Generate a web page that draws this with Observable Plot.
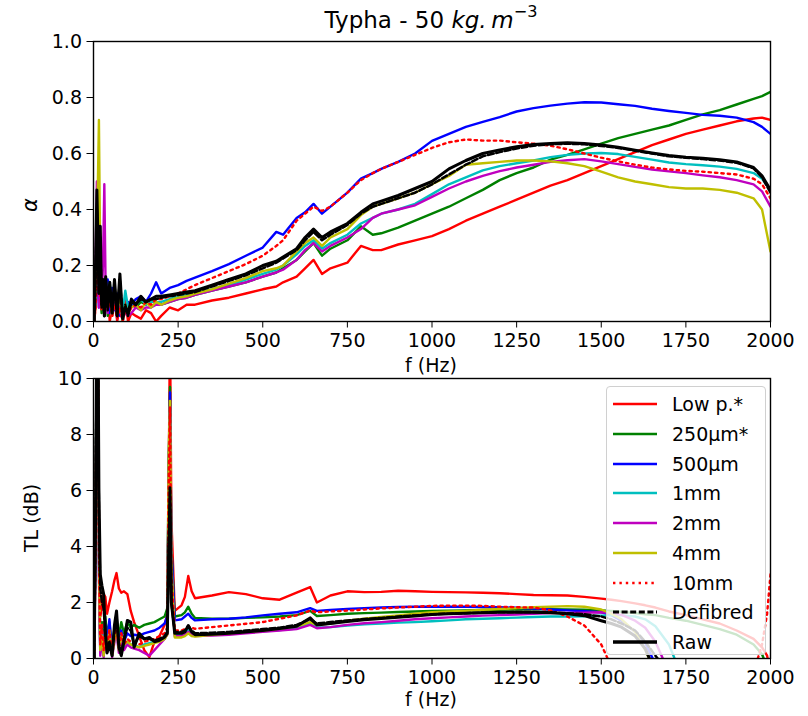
<!DOCTYPE html>
<html><head><meta charset="utf-8">
<script src="https://cdn.jsdelivr.net/npm/d3@7"></script>
<script src="https://cdn.jsdelivr.net/npm/@observablehq/plot@0.6"></script>
<style>
body{margin:0;background:#fff;font-family:"DejaVu Sans",sans-serif;color:#000}
#wrap{position:relative;width:808px;height:716px;overflow:hidden;background:#fff}
.abs{position:absolute;white-space:nowrap}
</style></head><body><div id="wrap"></div>
<script>
// ---------- series definitions ----------
const seriesNames = ["Low p.*","250µm*","500µm","1mm","2mm","4mm","10mm","Defibred","Raw"];
const seriesColors = ["#ff0000","#008000","#0000ff","#00bfbf","#bf00bf","#bfbf00","#ff0000","#000000","#000000"];
const seriesDash = [null,null,null,null,null,null,"2.4,4","6,2.6",null];
const seriesWidth = [2.4,2.4,2.4,2.4,2.4,2.4,2.4,2.5,3];

const xTicks = [0,250,500,750,1000,1250,1500,1750,2000];
const alphaTicks = [0,0.2,0.4,0.6,0.8,1.0];
const tlTicks = [0,2,4,6,8,10];

// ---------- top panel: absorption coefficient ----------
const freqTop = [2,6,10,13,16,20,24,28,32,36,42,48,55,62,70,78,86,94,102,112,125,140,155,170,185,
 200,225,250,275,300,350,400,450,500,540,560,600,625,650,675,700,750,790,825,850,900,950,1000,1050,1100,1150,1200,1250,1300,1350,1400,1450,1500,1550,1600,1650,1700,1750,1800,1850,1900,1950,1975,2000];

const alphaLowP = [0,.05,.12,.2,.26,.15,.05,.1,.02,.08,.12,0,.05,.1,0,.06,.02,.08,0,.03,.02,.01,.04,.03,0,
 .02,.05,.04,.06,.06,.075,.085,.1,.115,.125,.14,.16,.19,.22,.17,.19,.21,.27,.255,.255,.275,.29,.305,.33,.36,.385,.41,.435,.46,.485,.505,.53,.555,.58,.605,.63,.65,.67,.685,.7,.715,.725,.728,.72];
const alpha250 = [0,.08,.2,.3,.15,.1,.03,.12,.05,.14,.02,.1,.04,.12,.02,.08,0,.05,.02,.06,.05,.07,.06,.08,.07,
 .06,.07,.08,.085,.095,.11,.125,.14,.16,.175,.19,.22,.25,.28,.235,.26,.29,.34,.31,.315,.335,.36,.385,.41,.44,.47,.505,.53,.55,.578,.595,.615,.635,.655,.67,.685,.7,.72,.74,.755,.775,.795,.805,.82];
const alpha500 = [0,.1,.25,.15,.05,.2,.05,.13,.02,.1,.15,.03,.12,.04,.1,.02,.06,.03,.07,.06,.08,.09,.07,.1,.14,
 .1,.12,.13,.145,.157,.18,.205,.235,.264,.32,.31,.37,.39,.42,.385,.41,.46,.51,.53,.545,.57,.6,.645,.67,.695,.713,.73,.75,.762,.771,.778,.783,.782,.776,.77,.76,.752,.745,.738,.735,.728,.712,.695,.67];
const alpha1mm = [0,.1,.3,.2,.1,.25,.05,.15,.03,.12,.05,.14,.02,.1,.04,.08,.03,.11,.05,.07,.06,.08,.06,.07,.07,
 .07,.08,.09,.095,.1,.115,.13,.15,.17,.185,.2,.24,.27,.29,.26,.28,.31,.35,.37,.385,.4,.42,.455,.49,.515,.54,.555,.565,.575,.587,.595,.6,.602,.598,.588,.578,.568,.562,.558,.553,.545,.53,.51,.47];
const alpha2mm = [0,.2,.5,.25,.05,.15,.08,.2,.49,.1,.03,.12,.02,.08,.01,.06,0,.04,.02,.03,.05,.04,.05,.05,.06,
 .06,.07,.08,.085,.095,.11,.125,.14,.16,.175,.185,.22,.255,.28,.25,.27,.3,.33,.37,.385,.4,.415,.445,.475,.5,.52,.537,.55,.56,.57,.576,.58,.572,.562,.552,.543,.536,.53,.522,.515,.505,.49,.465,.41];
const alpha4mm = [0,.1,.3,.5,.72,.2,.05,.12,.03,.15,.05,.1,.02,.13,.03,.1,0,.06,.03,.05,.06,.04,.07,.05,.07,
 .06,.075,.085,.09,.1,.115,.135,.155,.18,.19,.2,.25,.28,.3,.27,.3,.33,.38,.41,.42,.44,.46,.49,.52,.56,.565,.57,.575,.575,.572,.565,.555,.535,.515,.5,.49,.48,.475,.475,.47,.46,.44,.4,.25];
const alpha10mm = [0,.05,.15,.25,.3,.1,.04,.12,.02,.1,.04,.08,.02,.06,.01,.05,0,.04,.03,.05,.06,.05,.07,.06,.08,
 .08,.09,.1,.115,.13,.155,.18,.205,.235,.27,.29,.36,.385,.41,.395,.41,.46,.505,.53,.545,.57,.595,.62,.64,.65,.646,.646,.64,.635,.628,.615,.6,.585,.572,.56,.55,.543,.538,.535,.53,.525,.51,.49,.44];
const alphaDefibred = [0,.15,.4,.3,.1,.3,.05,.14,.02,.15,.04,.13,.03,.12,.02,.15,.01,.06,.02,.07,.06,.08,.07,.08,.08,
 .085,.09,.095,.1,.105,.125,.145,.165,.19,.21,.225,.255,.29,.32,.29,.31,.345,.385,.41,.42,.44,.46,.49,.525,.56,.59,.605,.618,.628,.633,.635,.633,.627,.62,.61,.6,.59,.585,.58,.575,.567,.547,.515,.46];
const alphaRaw = [0,.2,.47,.3,.1,.34,.06,.15,.02,.16,.05,.14,.03,.15,.02,.17,.01,.05,.03,.08,.06,.09,.07,.08,.09,
 .09,.095,.1,.105,.11,.13,.15,.17,.2,.215,.23,.26,.3,.33,.3,.32,.35,.39,.42,.43,.45,.475,.5,.545,.575,.6,.613,.624,.632,.636,.638,.636,.63,.622,.612,.602,.593,.587,.583,.578,.57,.55,.52,.47];

// ---------- bottom panel: transmission loss (dB) ----------
const freqBot = [2,6,10,13,16,20,25,30,35,40,47,55,62,68,75,82,90,100,110,120,135,150,165,180,195,210,218,222,226,230,240,260,270,280,290,300,
 350,400,450,500,550,600,640,660,700,750,800,850,900,950,1000,1050,1100,1150,1200,1250,1300,1350,1400,1450,1500,1530,1560,1600,1630,1660,1700,1750,1800,1850,1900,1950,1975,1990,2000];

const tlLowP = [0,4,12,12,5,1.5,1.8,2.3,2.2,1.6,2.0,2.4,2.8,3.05,2.5,2.35,2.4,2.3,1.7,1.3,0.8,0.3,0.05,0.6,0.8,1.2,1.6,6,12,5,1.7,1.9,2.2,2.95,2.4,2.15,
 2.25,2.37,2.3,2.15,2.1,2.35,2.55,2.0,2.25,2.4,2.37,2.38,2.42,2.4,2.38,2.37,2.36,2.35,2.33,2.3,2.27,2.26,2.25,2.2,2.14,2.1,2.05,1.97,1.9,1.82,1.68,1.55,1.4,1.25,1.0,0.7,0.4,0.1,-0.5];
const tl250 = [0,5,12,12,4,0.5,1.3,0.2,1.5,0.8,1.3,0.3,1.1,1.5,0.8,1.3,0.9,1.3,1.1,1.2,1.1,1.2,1.25,1.3,1.4,1.5,1.8,7,9.7,4,1.5,1.55,1.65,1.85,1.6,1.45,
 1.42,1.42,1.45,1.47,1.5,1.55,1.7,1.52,1.55,1.6,1.62,1.64,1.66,1.68,1.7,1.71,1.72,1.73,1.74,1.75,1.76,1.76,1.75,1.74,1.72,1.7,1.67,1.62,1.58,1.55,1.45,1.35,1.2,1.05,0.85,0.5,0.15,-0.3,-0.5];
const tl500 = [0,5,12,12,4,0.3,1.0,0.1,1.2,0.5,1.4,0.2,1.0,1.3,0.5,1.0,0.6,0.9,0.8,0.85,0.82,0.9,0.95,1.0,1.1,1.25,1.5,6.5,9.5,4,1.36,1.4,1.5,1.6,1.45,1.36,
 1.4,1.42,1.47,1.54,1.6,1.65,1.8,1.7,1.73,1.77,1.8,1.82,1.84,1.85,1.85,1.85,1.85,1.84,1.83,1.81,1.78,1.75,1.72,1.69,1.65,1.55,1.35,0.95,0.55,-0.2,-1,-1,-1,-1,-1,-1,-1,-1,-1];
const tl1mm = [0,4,12,12,3,0.2,0.9,0.1,1.0,0.3,0.8,0.1,0.7,1.0,0.3,0.7,0.4,0.6,0.5,0.5,0.4,0.5,0.55,0.6,0.65,0.7,0.9,6,9,3,0.85,0.85,0.9,1.05,0.9,0.85,
 0.87,0.9,0.93,0.97,1.02,1.07,1.25,1.1,1.12,1.18,1.22,1.25,1.28,1.3,1.33,1.36,1.4,1.42,1.44,1.46,1.48,1.5,1.5,1.51,1.53,1.54,1.54,1.5,1.4,1.15,0.5,-1,-1,-1,-1,-1,-1,-1,-1];
const tl2mm = [0,4,12,12,3,0.1,0.7,0.05,0.8,0.2,0.7,0.05,0.6,0.9,0.2,0.6,0.3,0.5,0.4,0.35,0.3,0.2,0.1,0.3,0.5,0.7,0.85,6,9,3,0.8,0.8,0.85,0.95,0.85,0.8,
 0.82,0.85,0.9,0.95,1.0,1.05,1.2,1.08,1.12,1.2,1.26,1.3,1.35,1.4,1.44,1.47,1.5,1.53,1.55,1.57,1.6,1.62,1.63,1.64,1.65,1.62,1.56,1.35,1.1,0.6,-0.5,-1,-1,-1,-1,-1,-1,-1,-1];
const tl4mm = [0,5,12,12,4,0.3,0.8,0.1,0.9,0.3,1.0,0.1,0.7,1.1,0.3,0.8,0.5,0.6,0.5,0.45,0.4,0.45,0.5,0.55,0.6,0.7,0.85,7,9.2,3.5,0.75,0.75,0.8,0.9,0.8,0.78,
 0.85,0.9,0.95,1.0,1.07,1.15,1.3,1.2,1.25,1.35,1.42,1.48,1.54,1.6,1.65,1.68,1.7,1.74,1.77,1.8,1.83,1.85,1.87,1.85,1.75,1.6,1.4,0.95,0.3,-0.5,-1,-1,-1,-1,-1,-1,-1,-1,-1];
const tl10mm = [0,4,12,12,4,0.5,1.2,0.3,1.0,0.4,1.0,0.2,0.8,1.2,0.4,0.9,0.5,0.7,0.6,0.55,0.5,0.6,0.65,0.7,0.8,0.9,1.1,6,9,3,1.0,1.0,1.05,1.15,1.1,1.06,
 1.12,1.18,1.24,1.3,1.42,1.54,1.71,1.65,1.68,1.71,1.75,1.79,1.82,1.85,1.88,1.89,1.89,1.88,1.85,1.83,1.82,1.72,1.5,1.18,0.5,-0.3,-1,-1,-1,-1,-1,-1,-1,-1,-1,-0.5,0.5,1.6,3.0];
const tlDefibred = [0,5,12,12,5,2.5,2.0,1.8,0.8,0.3,0.6,0.2,1.0,1.4,0.5,0.2,0.7,1.1,1.0,0.5,0.8,0.7,0.7,0.65,0.7,0.8,0.95,4,5.5,2,0.95,0.95,1.0,1.15,1.0,0.9,
 0.92,0.95,1.0,1.05,1.1,1.2,1.4,1.25,1.3,1.36,1.41,1.45,1.5,1.54,1.58,1.6,1.62,1.64,1.65,1.66,1.66,1.65,1.62,1.58,1.5,1.4,1.25,1.0,0.6,0.1,-0.5,-1,-1,-1,-1,-1,-1,-1,-1];
const tlRaw = [0,5,12,12,6,3.0,2.6,2.3,1.0,0.2,0.5,0.1,1.2,1.7,0.4,0.1,0.6,1.36,1.3,0.4,0.9,0.7,0.75,0.6,0.65,0.76,0.9,3.5,6.1,2,0.9,0.9,0.95,1.18,0.95,0.85,
 0.87,0.9,0.95,1.0,1.07,1.15,1.45,1.2,1.25,1.32,1.38,1.43,1.47,1.52,1.57,1.6,1.62,1.63,1.65,1.65,1.65,1.63,1.6,1.53,1.35,1.25,1.12,0.8,0.35,-0.5,-1,-1,-1,-1,-1,-1,-1,-1,-1];

const topSeries = [alphaLowP, alpha250, alpha500, alpha1mm, alpha2mm, alpha4mm, alpha10mm, alphaDefibred, alphaRaw];
const botSeries = [tlLowP, tl250, tl500, tl1mm, tl2mm, tl4mm, tl10mm, tlDefibred, tlRaw];

// ---------- drawing ----------
const FONT = "DejaVu Sans";
function panel(freq, arrays, yDomain, yTicks, yFmt, height, mt, mb) {
  const marks = arrays.map((arr, i) => {
    const data = freq.map((f, j) => ({f, v: arr[j]}));
    const opts = {x: "f", y: "v", stroke: seriesColors[i], strokeWidth: seriesWidth[i], clip: true};
    if (seriesDash[i]) opts.strokeDasharray = seriesDash[i];
    return Plot.line(data, opts);
  });
  marks.push(Plot.frame({stroke: "black", strokeWidth: 1.4}));
  return Plot.plot({
    width: 808, height, marginLeft: 93, marginRight: 38, marginTop: mt, marginBottom: mb,
    style: {fontFamily: FONT, fontSize: "19px", background: "transparent", overflow: "visible", color: "black"},
    x: {domain: [0, 2000], ticks: xTicks, tickFormat: d => String(d), label: null, tickSize: 6.5, tickPadding: 5},
    y: {domain: yDomain, ticks: yTicks, tickFormat: yFmt, label: null, tickSize: 6.5, tickPadding: 5},
    marks
  });
}

const wrap = document.getElementById("wrap");
function place(node, left, top) {
  node.style.position = "absolute"; node.style.left = left + "px"; node.style.top = top + "px";
  wrap.appendChild(node);
}
const p1 = panel(freqTop, topSeries, [0, 1], alphaTicks, d3.format(".1f"), 372, 41, 51);
place(p1, 0, 0);
const p2 = panel(freqBot, botSeries, [0, 10], tlTicks, d => String(d), 344, 6, 58);
place(p2, 0, 372);

function label(html, cx, cy, size, rotate) {
  const d = document.createElement("div");
  d.className = "abs";
  d.innerHTML = html;
  d.style.fontSize = size + "px";
  d.style.lineHeight = "1.15";
  d.style.left = cx + "px"; d.style.top = cy + "px";
  d.style.transform = "translate(-50%,-50%)" + (rotate ? " rotate(-90deg)" : "");
  wrap.appendChild(d);
}
label('Typha - 50 <i>kg.</i>&#8201;<i>m</i><sup style="font-size:0.7em;position:relative;top:-0.15em">&#8722;3</sup>', 431, 19, 23);
label('f (Hz)', 431, 366, 19);
label('f (Hz)', 431, 700, 19);
label('<i>α</i>', 30, 205, 21, true);
label('TL (dB)', 32, 518, 19, true);

// legend
const leg = document.createElement("div");
leg.style.cssText = "position:absolute;left:606px;top:386px;width:160px;height:269px;background:rgba(255,255,255,0.8);border:1px solid #d0d0d0;border-radius:4px;box-sizing:border-box";
seriesNames.forEach((name, i) => {
  const cy = 17 + i * 29.75;
  const sw = document.createElementNS("http://www.w3.org/2000/svg", "svg");
  sw.setAttribute("width", 46); sw.setAttribute("height", 10);
  sw.style.cssText = `position:absolute;left:6px;top:${cy - 5}px`;
  const ln = document.createElementNS("http://www.w3.org/2000/svg", "line");
  ln.setAttribute("x1", 0); ln.setAttribute("x2", 44); ln.setAttribute("y1", 5); ln.setAttribute("y2", 5);
  ln.setAttribute("stroke", seriesColors[i]); ln.setAttribute("stroke-width", seriesWidth[i] + 0.3);
  if (seriesDash[i]) ln.setAttribute("stroke-dasharray", seriesDash[i]);
  sw.appendChild(ln); leg.appendChild(sw);
  const t = document.createElement("div");
  t.textContent = name;
  t.style.cssText = `position:absolute;left:65px;top:${cy - 11}px;font-size:19px;line-height:22px;white-space:nowrap`;
  leg.appendChild(t);
});
wrap.appendChild(leg);
</script></body></html>
